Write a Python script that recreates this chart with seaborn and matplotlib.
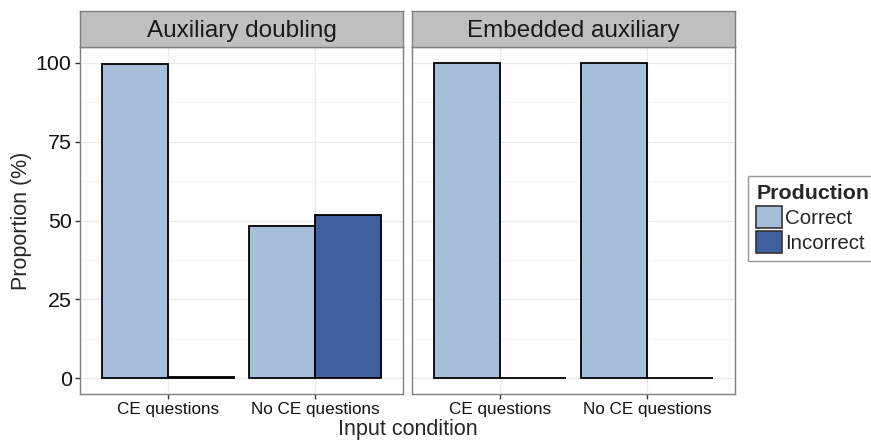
import numpy as np
import pandas as pd
import seaborn as sns
import matplotlib.pyplot as plt
from matplotlib.patches import Patch

sns.set_style('white')
plt.rcParams['font.family'] = ['Liberation Sans', 'DejaVu Sans']

# data
panels = ['Auxiliary doubling', 'Embedded auxiliary']
conditions = ['CE questions', 'No CE questions']
productions = ['Correct', 'Incorrect']
aux_correct = [99.7, 48.3]
aux_incorrect = [0.3, 51.7]
emb_correct = [100.0, 99.8]
emb_incorrect = [0.0, 0.2]

colors = {'Correct': '#A6BED8', 'Incorrect': '#3F5F9E'}

rows = []
for panel, corr, inc in zip(panels, [aux_correct, emb_correct], [aux_incorrect, emb_incorrect]):
    for i, cond in enumerate(conditions):
        rows.append((panel, cond, 'Correct', corr[i]))
        rows.append((panel, cond, 'Incorrect', inc[i]))
df = pd.DataFrame(rows, columns=['Type', 'Condition', 'Production', 'Proportion'])

W, H = 871, 441
fig = plt.figure(figsize=(W / 100, H / 100), dpi=100)

panel_left = [80, 412]
panel_w = 323
panel_top, panel_bot = 47, 394
strip_top = 11

for k, panel in enumerate(panels):
    x0 = panel_left[k]
    ax = fig.add_axes([x0 / W, (H - panel_bot) / H, panel_w / W, (panel_bot - panel_top) / H])
    sub = df[df['Type'] == panel]
    sns.barplot(data=sub, x='Condition', y='Proportion', hue='Production',
                order=conditions, hue_order=productions, palette=colors,
                width=0.9, edgecolor='black', linewidth=1.3, saturation=1,
                legend=False, ax=ax, zorder=3)
    ax.set_xlim(-0.6, 1.6)
    ax.set_ylim(-5, 105)
    ax.set_yticks([0, 25, 50, 75, 100])
    ax.set_yticks([12.5, 37.5, 62.5, 87.5], minor=True)
    ax.grid(True, which='major', color='#EBEBEB', linewidth=0.9, zorder=0)
    ax.grid(True, which='minor', axis='y', color='#F5F5F5', linewidth=0.6, zorder=0)
    ax.set_axisbelow(True)
    ax.set_xlabel('')
    ax.set_ylabel('')
    for s in ax.spines.values():
        s.set_color('#7F7F7F')
        s.set_linewidth(1.0)
        s.set_visible(True)
    ax.tick_params(axis='x', which='major', length=3.6, width=1.0, color='#333333',
                   labelsize=12.3, pad=2, labelcolor='#111111', bottom=True)
    ax.tick_params(axis='y', which='major', length=3.6, width=1.0, color='#333333',
                   labelsize=15.4, pad=2.4, labelcolor='#111111', left=(k == 0),
                   labelleft=(k == 0))
    ax.tick_params(axis='y', which='minor', length=0)

    # facet strip
    sax = fig.add_axes([x0 / W, (H - panel_top) / H, panel_w / W, (panel_top - strip_top) / H])
    sax.set_facecolor('#BFBFBF')
    sax.set_xticks([])
    sax.set_yticks([])
    for s in sax.spines.values():
        s.set_color('#7F7F7F')
        s.set_linewidth(1.0)
    sax.text(0.5, 0.45, panel, ha='center', va='center', fontsize=17.5, color='#1A1A1A',
             transform=sax.transAxes)

fig.text(407.5 / W, (H - 435) / H, 'Input condition', ha='center', va='baseline', fontsize=15.5)
fig.text(22 / W, 220.5 / H, 'Proportion (%)', ha='center', va='center', rotation=90, fontsize=15.5)

handles = [Patch(facecolor=colors[p], edgecolor='#333333', linewidth=1.2, label=p) for p in productions]
leg = fig.legend(handles=handles, title='Production', loc='upper left',
                 bbox_to_anchor=(748 / W, (H - 176) / H), fontsize=14.8,
                 title_fontproperties={'weight': 'bold', 'size': 15.4},
                 handlelength=1.25, handleheight=1.3, handletextpad=0.15,
                 labelspacing=0.12, borderpad=0.4, borderaxespad=0,
                 frameon=True, fancybox=False, alignment='left')
leg.get_frame().set_edgecolor('#7F7F7F')
leg.get_frame().set_linewidth(1.0)

fig.savefig('out.png', dpi=100)
